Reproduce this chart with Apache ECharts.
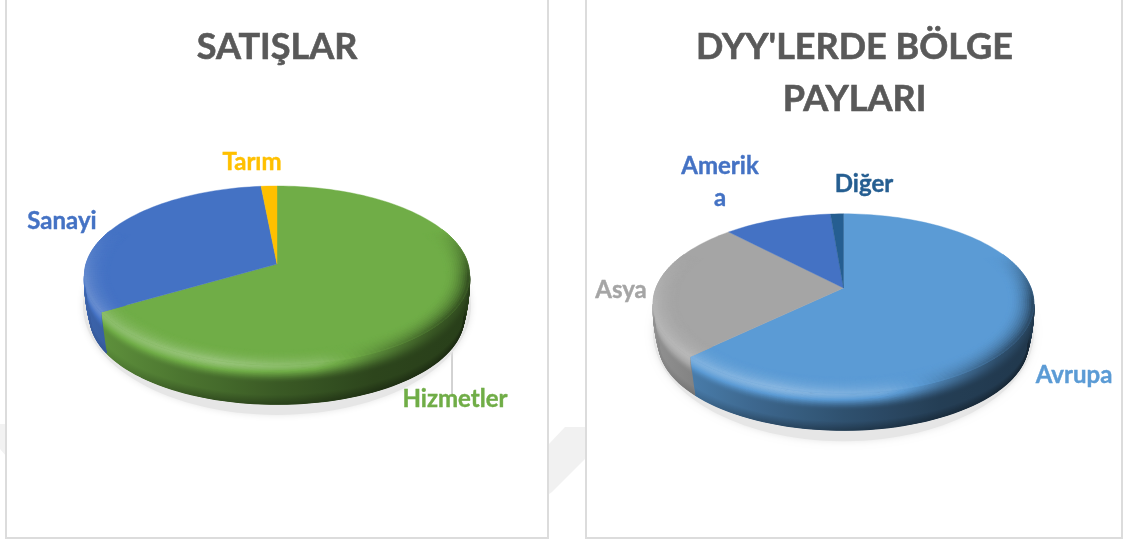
<!DOCTYPE html>
<html><head><meta charset="utf-8">
<style>html,body{margin:0;padding:0;background:#fff}#c{width:1130px;height:541px}</style>
<script src="https://cdn.jsdelivr.net/npm/echarts@6/dist/echarts.min.js"></script>
</head><body><div id="c"></div>
<script>
// ---- data ----
const salesCategories = ['Hizmetler', 'Sanayi', 'Tarım'];
const salesValues = [66.5, 32, 1.5];
const regionCategories = ['Avrupa', 'Asya', 'Amerika', 'Diğer'];
const regionValues = [62.8, 25.1, 10.8, 1.3];
const salesTitle = 'SATIŞLAR';
const regionTitle = "DYY'LERDE BÖLGE\nPAYLARI";

// ---- styling and layout ----
const salesColors = ['#70ad47', '#4472c4', '#ffc000'];
const regionColors = ['#5b9bd5', '#a5a5a5', '#4472c4', '#255e91'];
const salesGeom = {cx: 277, apexY: 264, rx: 191, ry: 88, k: 0.128, depth: 43};
const regionGeom = {cx: 843.5, apexY: 288, rx: 187.5, ry: 87, k: 0.173, depth: 41};
const salesLabels = [{x: 455, y: 399, text: 'Hizmetler'}, {x: 62, y: 221, text: 'Sanayi'}, {x: 252, y: 162, text: 'Tarım'}];
const regionLabels = [{x: 1074, y: 375, text: 'Avrupa'}, {x: 621, y: 290, text: 'Asya'}, {x: 720, y: 182, text: 'Amerik\na'}, {x: 864, y: 184, text: 'Diğer'}];
const FONT = 'Lato, "Open Sans", sans-serif';

function rgb(hex){return [1,3,5].map(i=>parseInt(hex.substr(i,2),16));}
function applyLight(c,f){
  const r = f<=1 ? c.map(v=>v*f) : c.map(v=>v+(255-v)*(f-1));
  return 'rgb('+r.map(v=>Math.round(v)).join(',')+')';
}
function pw(x,pts){
  if(x<=pts[0][0])return pts[0][1];
  for(let i=1;i<pts.length;i++){
    if(x<=pts[i][0]){const a=pts[i-1],b=pts[i];return a[1]+(b[1]-a[1])*(x-a[0])/(b[0]-a[0]);}
  }
  return pts[pts.length-1][1];
}
const clamp=(x)=>Math.max(0,Math.min(1,x));
const wallLight=u=>pw(u,[[-1,.88],[-.5,.68],[0,.52],[.5,.4],[1,.36]]);
const edgeLight=u=>pw(u,[[-1,1.18],[-.3,1.28],[.2,1.16],[.5,.8],[.8,.52],[1,.42]]);
const bottomDark=u=>pw(u,[[-1,.04],[-.4,.25],[1,.3]]);
function wallF(u,t){
  const m=clamp(t/.45),sm=m*m*(3-2*m);
  let f=edgeLight(u)+(wallLight(u)-edgeLight(u))*sm;
  if(t>.75) f*=1-bottomDark(u)*(t-.75)/.25;
  return f;
}

function makeRender(values,colors,labels,g){
  const total=values.reduce((a,b)=>a+b,0);
  const proj=(th,r,drop)=>{
    const u=Math.sin(th)*r,v=Math.cos(th)*r,w=1+g.k*v;
    return [g.cx+g.rx*u/w, g.apexY-g.ry*v/w+drop];
  };
  const wallPt=(th,t)=>proj(th,1-.03*t*t,g.depth*t);
  const thR=Math.acos(-g.k), thL=2*Math.PI-thR;
  return function(params,api){
    const i=params.dataIndex, val=api.value(0);
    let before=0; for(let j=0;j<i;j++) before+=values[j];
    const a1=before/total*2*Math.PI, a2=(before+val)/total*2*Math.PI;
    const base=rgb(colors[i]);
    const children=[];
    if(i===0){
      const e=proj(Math.PI,1,0), t=proj(0,1,0);
      const cyTop=(e[1]+t[1])/2, ryTop=(e[1]-t[1])/2;
      children.push({type:'ellipse',shape:{cx:g.cx,cy:cyTop+g.depth*.7,rx:g.rx+3,ry:ryTop+g.depth*.3+7},
        style:{fill:'#e6e6e6',shadowBlur:7,shadowColor:'#e6e6e6'}});
    }
    // wall: curved layers, each shaded left to right
    const lo=Math.max(a1,thR), hi=Math.min(a2,thL);
    const step=Math.PI/80;
    if(hi>lo){
      const n=Math.max(2,Math.ceil((hi-lo)/step)), L=Math.ceil(g.depth*1.4);
      const gradFor=(t)=>{
        const stops=[];
        for(let q=0;q<=20;q++){const u=-1+q/10;stops.push({offset:q/20,color:applyLight(base,wallF(u,t))});}
        return {type:'linear',x:g.cx-g.rx*1.02,y:0,x2:g.cx+g.rx*1.02,y2:0,global:true,colorStops:stops};
      };
      const outline=[];
      for(let s=0;s<=n;s++) outline.push(wallPt(lo+(hi-lo)*s/n,0));
      for(let s=n;s>=0;s--) outline.push(wallPt(lo+(hi-lo)*s/n,1));
      children.push({type:'polygon',shape:{points:outline},style:{fill:gradFor(.5)}});
      for(let l=0;l<L;l++){
        const t=(l+.5)/L, line=[];
        for(let s=0;s<=n;s++) line.push(wallPt(lo+(hi-lo)*s/n,t));
        children.push({type:'polyline',shape:{points:line},style:{fill:null,stroke:gradFor(t),lineWidth:1.4,lineCap:'butt',lineJoin:'round'}});
      }
    }
    // top face
    const pts=[[g.cx,g.apexY]];
    const nTop=Math.max(2,Math.ceil((a2-a1)/(Math.PI/90)));
    for(let s=0;s<=nTop;s++) pts.push(proj(a1+(a2-a1)*s/nTop,1,0));
    children.push({type:'polygon',shape:{points:pts},style:{fill:colors[i],stroke:colors[i],lineWidth:.4}});
    // soft bevel along the front rim
    const nB=Math.max(1,Math.ceil((a2-a1)/(step/1.5))), B=12, inner=.87;
    for(let s=0;s<nB;s++){
      const t1=a1+(a2-a1)*s/nB,t2=a1+(a2-a1)*(s+1)/nB,tm=(t1+t2)/2;
      const u=Math.sin(tm),v=Math.cos(tm),fade=clamp((.4-v)/.55);
      if(fade<=0) continue;
      for(let l=0;l<B;l++){
        const r1=inner+(1-inner)*l/B,r2=inner+(1-inner)*(l+1)/B,q=(l+.5)/B;
        const f=1+(edgeLight(u)-1)*q*q*fade;
        const c=applyLight(base,f);
        children.push({type:'polygon',shape:{points:[proj(t1,r1,0),proj(t2,r1,0),proj(t2,r2,0),proj(t1,r2,0)]},style:{fill:c,stroke:c,lineWidth:.8}});
      }
    }
    const lb=labels[i];
    children.push({type:'text',z2:50,style:{x:lb.x,y:lb.y,text:lb.text,align:'center',verticalAlign:'middle',
      fill:colors[i],font:'bold 24px '+FONT,lineHeight:32,stroke:colors[i],lineWidth:.4}});
    return {type:'group',children:children};
  };
}

const chart=echarts.init(document.getElementById('c'),null,{renderer:'canvas'});
const toData=(cats,vals)=>vals.map((v,i)=>({name:cats[i],value:[v]}));
const panel=(x,w)=>({type:'rect',z:1,shape:{x:x,y:-6,width:w,height:544},style:{fill:'#fff',stroke:'#dcdcdc',lineWidth:2}});
const titleStyle={fontFamily:FONT,fontWeight:'bold',fontSize:36,color:'#595959',textBorderColor:'#595959',textBorderWidth:.6};
chart.setOption({
  animation:false,
  backgroundColor:'#ffffff',
  title:[
    {text:salesTitle,left:272,top:24,textAlign:'center',textStyle:titleStyle},
    {text:regionTitle,left:849.5,top:16,textAlign:'center',textStyle:Object.assign({},titleStyle,{lineHeight:52})}
  ],
  graphic:[
    {type:'polygon',z:0,shape:{points:[[549,444],[565,427],[586,427],[586,458],[552,492],[549,494]]},style:{fill:'#f1f1f1'}},
    {type:'polygon',z:0,shape:{points:[[0,424],[6,424],[6,456],[0,449]]},style:{fill:'#f2f2f2'}},
    panel(6,542),panel(586,536),
    {type:'line',z:1,shape:{x1:452,y1:352,x2:452,y2:397},style:{stroke:'#a6a6a6',lineWidth:1}}
  ],
  series:[
    {type:'custom',coordinateSystem:'none',silent:true,z:5,data:toData(salesCategories,salesValues),
     renderItem:makeRender(salesValues,salesColors,salesLabels,salesGeom)},
    {type:'custom',coordinateSystem:'none',silent:true,z:5,data:toData(regionCategories,regionValues),
     renderItem:makeRender(regionValues,regionColors,regionLabels,regionGeom)}
  ]
});
</script></body></html>
